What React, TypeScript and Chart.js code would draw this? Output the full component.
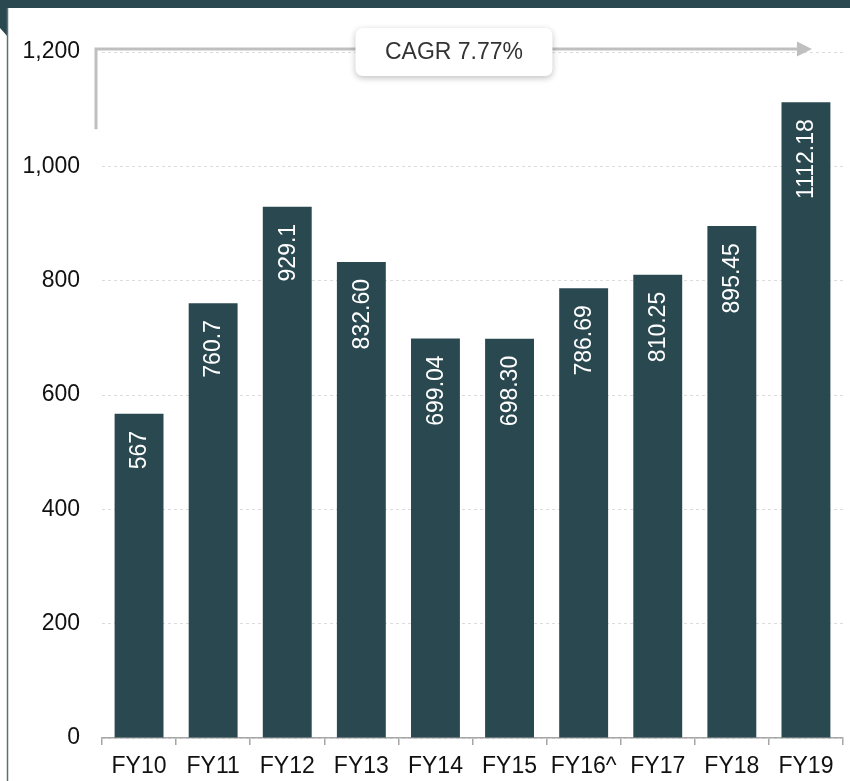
import React, { useEffect, useRef } from "react";
import { Chart, registerables } from "chart.js";

Chart.register(...registerables);

const categories = ["FY10", "FY11", "FY12", "FY13", "FY14", "FY15", "FY16^", "FY17", "FY18", "FY19"];
const values = [567, 760.7, 929.1, 832.6, 699.04, 698.3, 786.69, 810.25, 895.45, 1112.18];
const valueLabels = ["567", "760.7", "929.1", "832.60", "699.04", "698.30", "786.69", "810.25", "895.45", "1112.18"];
const yTicks = [0, 200, 400, 600, 800, 1000, 1200];
const cagrText = "CAGR 7.77%";
const cagrStartValue = 1065;

const BAR = "#2a4850";
const FONT = '"Liberation Sans", Arial, sans-serif';

const framePlugin = {
  id: "frame",
  beforeDraw(chart: any) {
    const ctx = chart.ctx;
    ctx.save();
    ctx.fillStyle = "#ffffff";
    ctx.fillRect(0, 0, chart.width, chart.height);
    ctx.fillStyle = BAR;
    ctx.fillRect(0, 0, chart.width, 8);
    ctx.beginPath();
    ctx.moveTo(0, 8);
    ctx.lineTo(8, 8);
    ctx.lineTo(8, 37);
    ctx.lineTo(0, 28);
    ctx.closePath();
    ctx.fill();
    ctx.strokeStyle = "#5f7176";
    ctx.lineWidth = 1.5;
    ctx.beginPath();
    ctx.moveTo(7.5, 8);
    ctx.lineTo(7.5, chart.height);
    ctx.stroke();
    ctx.restore();
  },
};

const labelPlugin = {
  id: "barLabels",
  afterDatasetsDraw(chart: any) {
    const ctx = chart.ctx;
    const meta = chart.getDatasetMeta(0);
    ctx.save();
    ctx.fillStyle = "#ffffff";
    ctx.font = `23px ${FONT}`;
    meta.data.forEach((bar: any, i: number) => {
      ctx.save();
      ctx.translate(bar.x + 1, bar.y + 17);
      ctx.rotate(-Math.PI / 2);
      ctx.textAlign = "right";
      ctx.textBaseline = "middle";
      ctx.fillText(valueLabels[i], 0, 0);
      ctx.restore();
    });
    ctx.restore();
  },
};

const cagrPlugin = {
  id: "cagr",
  afterDraw(chart: any) {
    const ctx = chart.ctx;
    const { left, top } = chart.chartArea;
    const xs = chart.scales.x;
    const ys = chart.scales.y;
    const lx = left - 6;
    const ly = top - 3;
    const yStart = ys.getPixelForValue(cagrStartValue);
    const tipX = xs.getPixelForValue(categories.length - 1) + 6;
    const baseX = tipX - 15;
    ctx.save();
    ctx.strokeStyle = "#bfbfbf";
    ctx.fillStyle = "#bfbfbf";
    ctx.lineWidth = 3;
    ctx.beginPath();
    ctx.moveTo(lx, yStart);
    ctx.lineTo(lx, ly);
    ctx.lineTo(baseX, ly);
    ctx.stroke();
    ctx.beginPath();
    ctx.moveTo(baseX, ly - 7.5);
    ctx.lineTo(tipX, ly);
    ctx.lineTo(baseX, ly + 7.5);
    ctx.closePath();
    ctx.fill();

    const cx = (lx + tipX) / 2;
    const cy = ly + 3;
    const w = 197;
    const h = 48;
    const r = 7;
    ctx.shadowColor = "rgba(0,0,0,0.25)";
    ctx.shadowBlur = 6;
    ctx.shadowOffsetY = 2;
    ctx.fillStyle = "#ffffff";
    ctx.beginPath();
    ctx.roundRect(cx - w / 2, cy - h / 2, w, h, r);
    ctx.fill();
    ctx.shadowColor = "transparent";
    ctx.fillStyle = "#333333";
    ctx.font = `23px ${FONT}`;
    ctx.textAlign = "center";
    ctx.textBaseline = "middle";
    ctx.fillText(cagrText, cx, cy + 1);
    ctx.restore();
  },
};

export default function App() {
  const ref = useRef<HTMLCanvasElement | null>(null);
  useEffect(() => {
    if (!ref.current) return;
    const chart = new Chart(ref.current, {
      type: "bar",
      data: {
        labels: categories,
        datasets: [
          {
            data: values,
            backgroundColor: BAR,
            barPercentage: 0.66,
            categoryPercentage: 1,
          },
        ],
      },
      options: {
        animation: false,
        responsive: false,
        maintainAspectRatio: false,
        layout: { padding: { top: 52, right: 7, left: 0, bottom: 0 } },
        plugins: { legend: { display: false }, tooltip: { enabled: false } },
        scales: {
          x: {
            offset: true,
            grid: {
              display: true,
              drawOnChartArea: false,
              drawTicks: true,
              tickLength: 7,
              color: "#a6a6a6",
              lineWidth: 1.5,
              offset: true,
            },
            border: { display: true, color: "#a6a6a6", width: 1.5 },
            ticks: { color: "#111111", font: { family: FONT, size: 23 }, padding: 8, maxRotation: 0, autoSkip: false },
            afterFit(scale: any) {
              scale.height = 43;
            },
          },
          y: {
            min: 0,
            max: 1200,
            afterBuildTicks(scale: any) {
              scale.ticks = yTicks.map((v) => ({ value: v }));
            },
            grid: { color: "#dcdcdc", lineWidth: 1, drawTicks: false },
            border: { display: false, dash: [3, 3] },
            ticks: {
              color: "#111111",
              font: { family: FONT, size: 23 },
              padding: 22,
              callback: (v: any) => Number(v).toLocaleString("en-US"),
            },
            afterFit(scale: any) {
              scale.width = 102;
            },
          },
        },
      },
      plugins: [framePlugin, labelPlugin, cagrPlugin],
    } as any);
    return () => chart.destroy();
  }, []);
  return (
    <div style={{ position: "fixed", left: 0, top: 0, width: 850, height: 781 }}>
      <canvas ref={ref} width={850} height={781} />
    </div>
  );
}
